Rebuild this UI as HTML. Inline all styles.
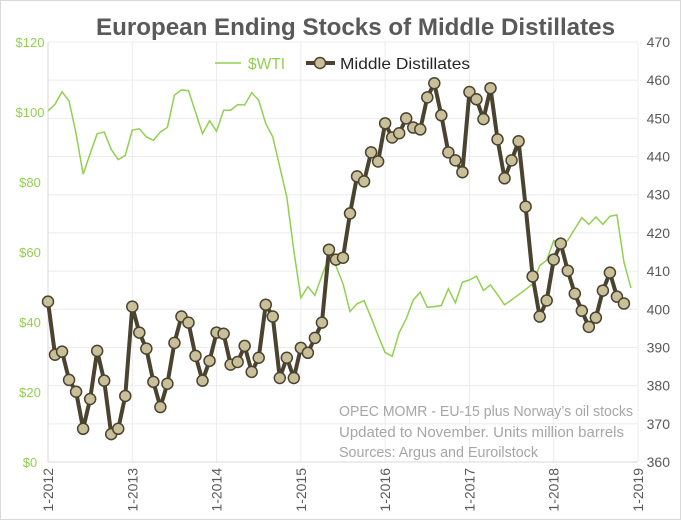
<!DOCTYPE html>
<html><head><meta charset="utf-8">
<style>
html,body{margin:0;padding:0;background:#fff;}
svg{display:block;font-family:"Liberation Sans",sans-serif;}
</style></head>
<body>
<svg id="chart" width="681" height="520" viewBox="0 0 681 520">
<rect x="0.5" y="0.5" width="680" height="519" fill="#fff" stroke="#d9d9d9"/>
<text x="96" y="35" textLength="519" lengthAdjust="spacingAndGlyphs" font-size="24" font-weight="bold" fill="#595959">European Ending Stocks of Middle Distillates</text>
<g id="grid"></g>
<g id="axes"></g>
<g id="series"></g>
<g>
<line x1="215" y1="63" x2="241" y2="63" stroke="#92d050" stroke-width="1.5"/>
<text x="248" y="69" textLength="37" lengthAdjust="spacingAndGlyphs" font-size="16" fill="#92d050">$WTI</text>
<line x1="306" y1="63" x2="335" y2="63" stroke="#4a4330" stroke-width="4"/>
<circle cx="320" cy="63" r="5.5" fill="#c9c09a" stroke="#4a4330" stroke-width="1.5"/>
<text x="340" y="69" textLength="130" lengthAdjust="spacingAndGlyphs" font-size="16" fill="#262626">Middle Distillates</text>
</g>
<g font-size="14.5" fill="#a6a6a6">
<text x="339" y="416" textLength="294" lengthAdjust="spacingAndGlyphs">OPEC MOMR - EU-15 plus Norway’s oil stocks</text>
<text x="339" y="437" textLength="285" lengthAdjust="spacingAndGlyphs">Updated to November. Units million barrels</text>
<text x="339" y="457" textLength="199" lengthAdjust="spacingAndGlyphs">Sources: Argus and Euroilstock</text>
</g>
</svg>
<script>
const yearLabels = ["1-2012","1-2013","1-2014","1-2015","1-2016","1-2017","1-2018","1-2019"];
const leftTicks = [0,20,40,60,80,100,120];
const rightTicks = [360,370,380,390,400,410,420,430,440,450,460,470];
const distillates = [402.0,388.1,388.9,381.5,378.4,368.7,376.5,389.1,381.3,367.3,368.7,377.3,
400.7,393.9,389.7,381.0,374.4,380.5,391.2,398.1,396.5,387.8,381.3,386.5,
393.9,393.6,385.5,386.2,390.4,383.6,387.3,401.2,398.1,382.0,387.3,382.0,
389.9,388.6,392.5,396.5,415.6,413.0,413.5,425.1,434.8,433.5,441.1,438.7,
448.7,445.0,446.1,450.0,447.6,447.1,455.5,459.2,450.8,441.1,439.0,435.9,
456.9,455.0,449.8,457.9,444.5,434.3,439.0,444.0,426.9,408.6,398.1,402.3,
413.0,417.2,410.1,404.1,399.6,395.4,397.8,404.9,409.6,403.3,401.5];
const wti = [100.3,102.2,105.8,103.1,93.8,82.2,88.1,93.8,94.3,89.3,86.4,87.6,
94.8,95.2,92.9,91.9,94.3,95.6,104.8,106.3,106.1,100.0,93.8,97.5,
94.5,100.5,100.5,102.1,102.0,105.5,103.4,96.7,92.9,84.3,75.7,60.4,
46.9,50.1,47.6,53.3,58.5,56.0,50.9,43.0,45.2,46.1,41.3,36.1,
31.3,30.2,37.0,40.9,46.3,48.5,44.2,44.4,44.7,49.5,45.5,51.4,
52.0,53.1,49.0,50.6,47.8,44.9,46.3,47.8,49.3,50.9,56.1,57.6,
63.3,61.9,63.3,66.6,69.8,67.9,70.0,67.9,70.2,70.6,57.1,49.7];

const X0=48, X1=638, Y0=462, Y1=42;
const xMonth = i => X0 + (X1-X0)*i/84;
const yLeft = v => Y0 - (Y0-Y1)*v/120;
const yRight = v => Y0 - (Y0-Y1)*(v-360)/110;
const NS="http://www.w3.org/2000/svg";
function mk(tag, attrs, parent){const e=document.createElementNS(NS,tag);for(const k in attrs)e.setAttribute(k,attrs[k]);parent.appendChild(e);return e;}
const grid=document.getElementById('grid'), axes=document.getElementById('axes'), series=document.getElementById('series');

rightTicks.forEach((t,i)=>{
  const y=yRight(t);
  const l=mk('line',{x1:X0,x2:X1,y1:y,y2:y,stroke:'#ececec','stroke-width':1},grid);
  
  
  const tx=mk('text',{x:670,y:y+5,'text-anchor':'end','font-size':14,fill:'#595959'},axes);
  tx.textContent=t;
  
  
});
yearLabels.forEach((lab,i)=>{
  const x=xMonth(i*12);
  const l=mk('line',{x1:x,x2:x,y1:Y1,y2:Y0,stroke:'#ececec','stroke-width':1},grid);
  
  
  const tx=mk('text',{x:0,y:0,'text-anchor':'end','font-size':14,fill:'#595959',transform:`translate(${x+5},468) rotate(-90)`},axes);
  tx.textContent=lab;
  
  
});
leftTicks.forEach(t=>{
  const tx=mk('text',{x:30,y:yLeft(t)+5,'text-anchor':'middle','font-size':13,fill:'#92d050'},axes);
  tx.textContent='$'+t;
  
  
});
const ax=mk('path',{d:`M${X0},${Y1}V${Y0}H${X1}`,fill:'none',stroke:'#d9d9d9'},axes);



const wl=mk('polyline',{points:wti.map((v,i)=>xMonth(i)+','+yLeft(v)).join(' '),fill:'none',stroke:'#92d050','stroke-width':1.5},series);


const dl=mk('polyline',{points:distillates.map((v,i)=>xMonth(i)+','+yRight(v)).join(' '),fill:'none',stroke:'#4a4330','stroke-width':4,'stroke-linejoin':'round'},series);


distillates.forEach((v,i)=>{
  const c=mk('circle',{cx:xMonth(i),cy:yRight(v),r:5.5,fill:'#c9c09a',stroke:'#4a4330','stroke-width':1.5},series);
  
  
});
</script>
</body></html>
